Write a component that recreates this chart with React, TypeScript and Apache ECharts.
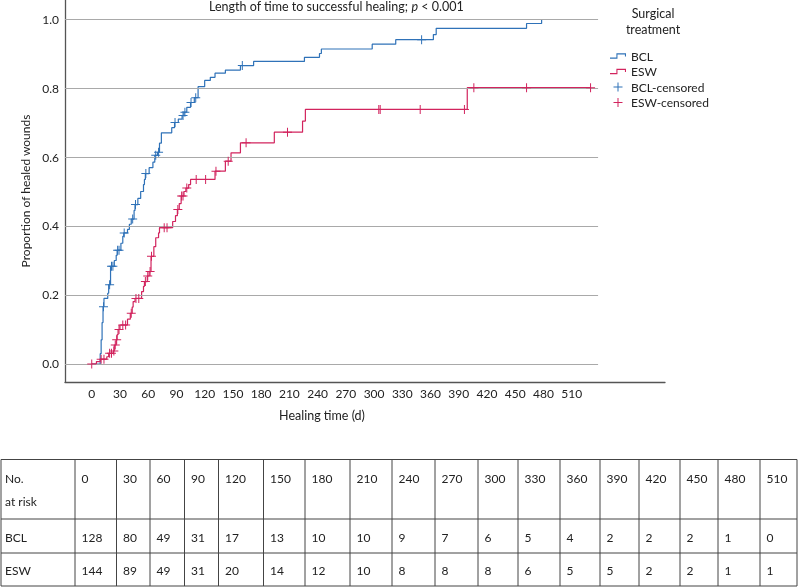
import React, { useEffect, useRef } from "react";
import * as echarts from "echarts";

// Kaplan-Meier steps: [day, proportion healed]
const bclSteps: [number, number][] = [
  [0, 0], [9, 0.03], [10, 0.07], [11, 0.12], [12, 0.166], [13, 0.19], [17, 0.205], [18, 0.23],
  [20, 0.283], [24, 0.3], [26, 0.315], [27, 0.33], [31, 0.35], [33, 0.37], [34, 0.38], [38, 0.39],
  [40, 0.405], [42, 0.42], [45, 0.445], [46, 0.462], [49, 0.48], [52, 0.5], [55, 0.52], [56, 0.535],
  [57, 0.552], [61, 0.569], [65, 0.585], [67, 0.605], [70, 0.614], [72, 0.64], [74, 0.67], [85, 0.685],
  [88, 0.7], [92, 0.71], [96, 0.72], [98, 0.73], [101, 0.744], [105, 0.758], [109, 0.772], [113, 0.804],
  [120, 0.822], [126, 0.831], [131, 0.843], [142, 0.852], [158, 0.865], [172, 0.877], [226, 0.889],
  [242, 0.9], [244, 0.913], [298, 0.927], [323, 0.94], [363, 0.955], [366, 0.973], [462, 0.987], [478, 1.0],
];
const eswSteps: [number, number][] = [
  [0, 0], [5, 0.007], [9, 0.014], [16, 0.021], [18, 0.031], [23, 0.038], [24, 0.055], [26, 0.07],
  [27, 0.085], [28, 0.1], [30, 0.113], [38, 0.13], [41, 0.147], [43, 0.165], [44, 0.181], [46, 0.19],
  [53, 0.21], [55, 0.225], [56, 0.239], [59, 0.255], [61, 0.268], [63, 0.312], [66, 0.34], [68, 0.366],
  [71, 0.38], [72, 0.395], [86, 0.413], [89, 0.43], [91, 0.448], [93, 0.465], [95, 0.487], [98, 0.5],
  [100, 0.51], [103, 0.52], [105, 0.535], [131, 0.559], [142, 0.588], [148, 0.612], [158, 0.641],
  [194, 0.672], [224, 0.704], [227, 0.738], [399, 0.801], [530, 0.801],
];
const bclCensored: [number, number][] = [
  [12.5, 0.166], [19, 0.23], [21, 0.283], [22.5, 0.283], [27.5, 0.33], [29, 0.33], [34.5, 0.38],
  [43.5, 0.42], [46.5, 0.462], [57.5, 0.552], [68, 0.605], [71, 0.614], [88.5, 0.7], [97, 0.72],
  [99, 0.73], [105.5, 0.758], [110.5, 0.772], [160, 0.865], [350.5, 0.94],
];
const eswCensored: [number, number][] = [
  [0, 0], [10, 0.014], [13, 0.014], [19, 0.031], [21, 0.031], [23.5, 0.038], [25, 0.055], [26.5, 0.07],
  [29, 0.1], [33, 0.113], [36, 0.113], [42, 0.147], [47, 0.19], [50, 0.19], [57, 0.239], [59.5, 0.255],
  [62, 0.268], [63.5, 0.312], [77, 0.395], [80, 0.395], [91.5, 0.448], [95.5, 0.487], [97, 0.487],
  [101, 0.51], [111, 0.535], [121, 0.535], [132, 0.559], [145, 0.588], [164, 0.641], [208, 0.672],
  [305, 0.738], [306.5, 0.738], [349, 0.738], [396, 0.738], [406, 0.801], [462, 0.801], [530, 0.801],
];

const xTicks = [0, 30, 60, 90, 120, 150, 180, 210, 240, 270, 300, 330, 360, 390, 420, 450, 480, 510];
const yTicks = [0, 0.2, 0.4, 0.6, 0.8, 1.0];

const riskTimes = ["0", "30", "60", "90", "120", "150", "180", "210", "240", "270", "300", "330", "360", "390", "420", "450", "480", "510"];
const bclAtRisk = [128, 80, 49, 31, 17, 13, 10, 10, 9, 7, 6, 5, 4, 2, 2, 2, 1, 0];
const eswAtRisk = [144, 89, 49, 31, 20, 14, 12, 10, 8, 8, 8, 6, 5, 5, 2, 2, 1, 1];

const BLUE = "#2f72b8";
const RED = "#d2245e";
const FONT = "Lato";
const TXT = "#222";

const stepIcon = "path://M0,12H18V0H45V9H42V3H21V15H0Z";
const plusIcon = "path://M4,0H5V4H9V5H5V9H4V5H0V4H4Z";

// table layout
const colEdges = [1, 75, 116.5, 150, 184.5, 218.5, 263.5, 305, 350, 392, 435, 478, 518, 560, 600, 639, 680, 718, 760, 797];
const rowEdges = [459.5, 519, 553, 586];

function buildTable() {
  const els: any[] = [];
  const stroke = "#444";
  rowEdges.forEach((y) =>
    els.push({ type: "line", shape: { x1: colEdges[0], y1: y, x2: colEdges[colEdges.length - 1], y2: y }, style: { stroke, lineWidth: 1 }, silent: true })
  );
  colEdges.forEach((x) =>
    els.push({ type: "line", shape: { x1: x, y1: rowEdges[0], x2: x, y2: rowEdges[rowEdges.length - 1] }, style: { stroke, lineWidth: 1 }, silent: true })
  );
  const txt = (s: string, x: number, y: number) => ({
    type: "text",
    x,
    y,
    silent: true,
    style: { text: s, fill: TXT, font: `12px ${FONT}`, textAlign: "left", align: "left", textVerticalAlign: "middle", verticalAlign: "middle" },
  });
  els.push(txt("No.", 5, 478));
  els.push(txt("at risk", 5, 501));
  els.push(txt("BCL", 5, 537));
  els.push(txt("ESW", 5, 570));
  riskTimes.forEach((t, i) => {
    const x = colEdges[i + 1] + 6.5;
    els.push(txt(t, x, 478));
    els.push(txt(String(bclAtRisk[i]), x, 537));
    els.push(txt(String(eswAtRisk[i]), x, 570));
  });
  return els;
}

const X_MIN = -28.4;
const X_MAX = 609.1;
const GRID_X_END = 538;

export default function App() {
  const ref = useRef<HTMLDivElement>(null);
  useEffect(() => {
    if (!ref.current) return;
    const chart = echarts.init(ref.current, undefined, { renderer: "svg" });
    const option: any = {
      animation: false,
      title: {
        text: "{a|Length of time to successful healing; }{i|p}{a| < 0.001}",
        left: 209,
        top: 0,
        padding: 0,
        textStyle: {
          fontWeight: "normal",
          rich: {
            a: { fontFamily: FONT, fontSize: 12.5, color: TXT, fontWeight: "normal" },
            i: { fontFamily: FONT, fontSize: 12.5, color: TXT, fontStyle: "italic", fontWeight: "normal" },
          },
        },
      },
      legend: {
        orient: "vertical",
        left: 605,
        top: 45,
        itemWidth: 16,
        itemHeight: 9,
        itemGap: 3.5,
        selectedMode: false,
        itemStyle: { borderWidth: 0 },
        textStyle: { fontFamily: FONT, fontSize: 12, color: TXT },
        data: [
          { name: "BCL", icon: stepIcon },
          { name: "ESW", icon: stepIcon },
          { name: "BCL-censored", icon: plusIcon },
          { name: "ESW-censored", icon: plusIcon },
        ],
      },
      grid: { left: 65, right: 135, top: 0, bottom: 205, containLabel: false },
      xAxis: {
        type: "value",
        min: X_MIN,
        max: X_MAX,
        axisLine: { show: true, onZero: false, lineStyle: { color: "#555", width: 1.3 } },
        axisTick: { show: false },
        splitLine: { show: false },
        axisLabel: {
          customValues: xTicks,
          margin: 5,
          fontFamily: FONT,
          fontSize: 12,
          color: TXT,
        },
      },
      yAxis: {
        type: "value",
        min: -0.0522,
        max: 1.0551,
        name: "Proportion of healed wounds",
        nameLocation: "middle",
        nameGap: 28,
        nameTextStyle: { fontFamily: FONT, fontSize: 12, color: TXT },
        axisLine: { show: true, onZero: false, lineStyle: { color: "#555", width: 1.3 } },
        axisTick: { show: false },
        splitLine: { show: false },
        axisLabel: {
          customValues: yTicks,
          margin: 6,
          fontFamily: FONT,
          fontSize: 12,
          color: TXT,
          formatter: (v: number) => v.toFixed(1),
        },
      },
      graphic: [
        {
          type: "text",
          x: 322,
          y: 415,
          silent: true,
          style: { text: "Healing time (d)", fill: TXT, font: `12.5px ${FONT}`, textAlign: "center", align: "center", textVerticalAlign: "middle", verticalAlign: "middle" },
        },
        {
          type: "text",
          x: 653,
          y: 21,
          silent: true,
          style: { text: "Surgical\ntreatment", fill: TXT, font: `12.5px ${FONT}`, lineHeight: 16, textAlign: "center", align: "center", textVerticalAlign: "middle", verticalAlign: "middle" },
        },
        ...buildTable(),
      ],
      series: [
        {
          type: "line",
          name: "gridlines",
          data: [],
          silent: true,
          z: 1,
          markLine: {
            silent: true,
            symbol: ["none", "none"],
            label: { show: false },
            lineStyle: { color: "#a9a9a9", width: 1, type: "solid" },
            data: yTicks.map((v) => [{ coord: [X_MIN, v] }, { coord: [GRID_X_END, v] }]),
          },
        },
        {
          type: "line",
          name: "BCL",
          step: "end",
          data: bclSteps,
          showSymbol: false,
          symbol: "none",
          z: 3,
          itemStyle: { color: BLUE },
          lineStyle: { color: BLUE, width: 1.2 },
        },
        {
          type: "line",
          name: "ESW",
          step: "end",
          data: eswSteps,
          showSymbol: false,
          symbol: "none",
          z: 4,
          itemStyle: { color: RED },
          lineStyle: { color: RED, width: 1.2 },
        },
        {
          type: "scatter",
          name: "BCL-censored",
          data: bclCensored,
          symbol: plusIcon,
          symbolSize: 9,
          z: 5,
          itemStyle: { color: BLUE, opacity: 1 },
        },
        {
          type: "scatter",
          name: "ESW-censored",
          data: eswCensored,
          symbol: plusIcon,
          symbolSize: 9,
          z: 6,
          itemStyle: { color: RED, opacity: 1 },
        },
      ],
    };
    chart.setOption(option);
    return () => chart.dispose();
  }, []);
  return <div ref={ref} style={{ position: "fixed", left: 0, top: 0, width: 800, height: 587 }} />;
}
